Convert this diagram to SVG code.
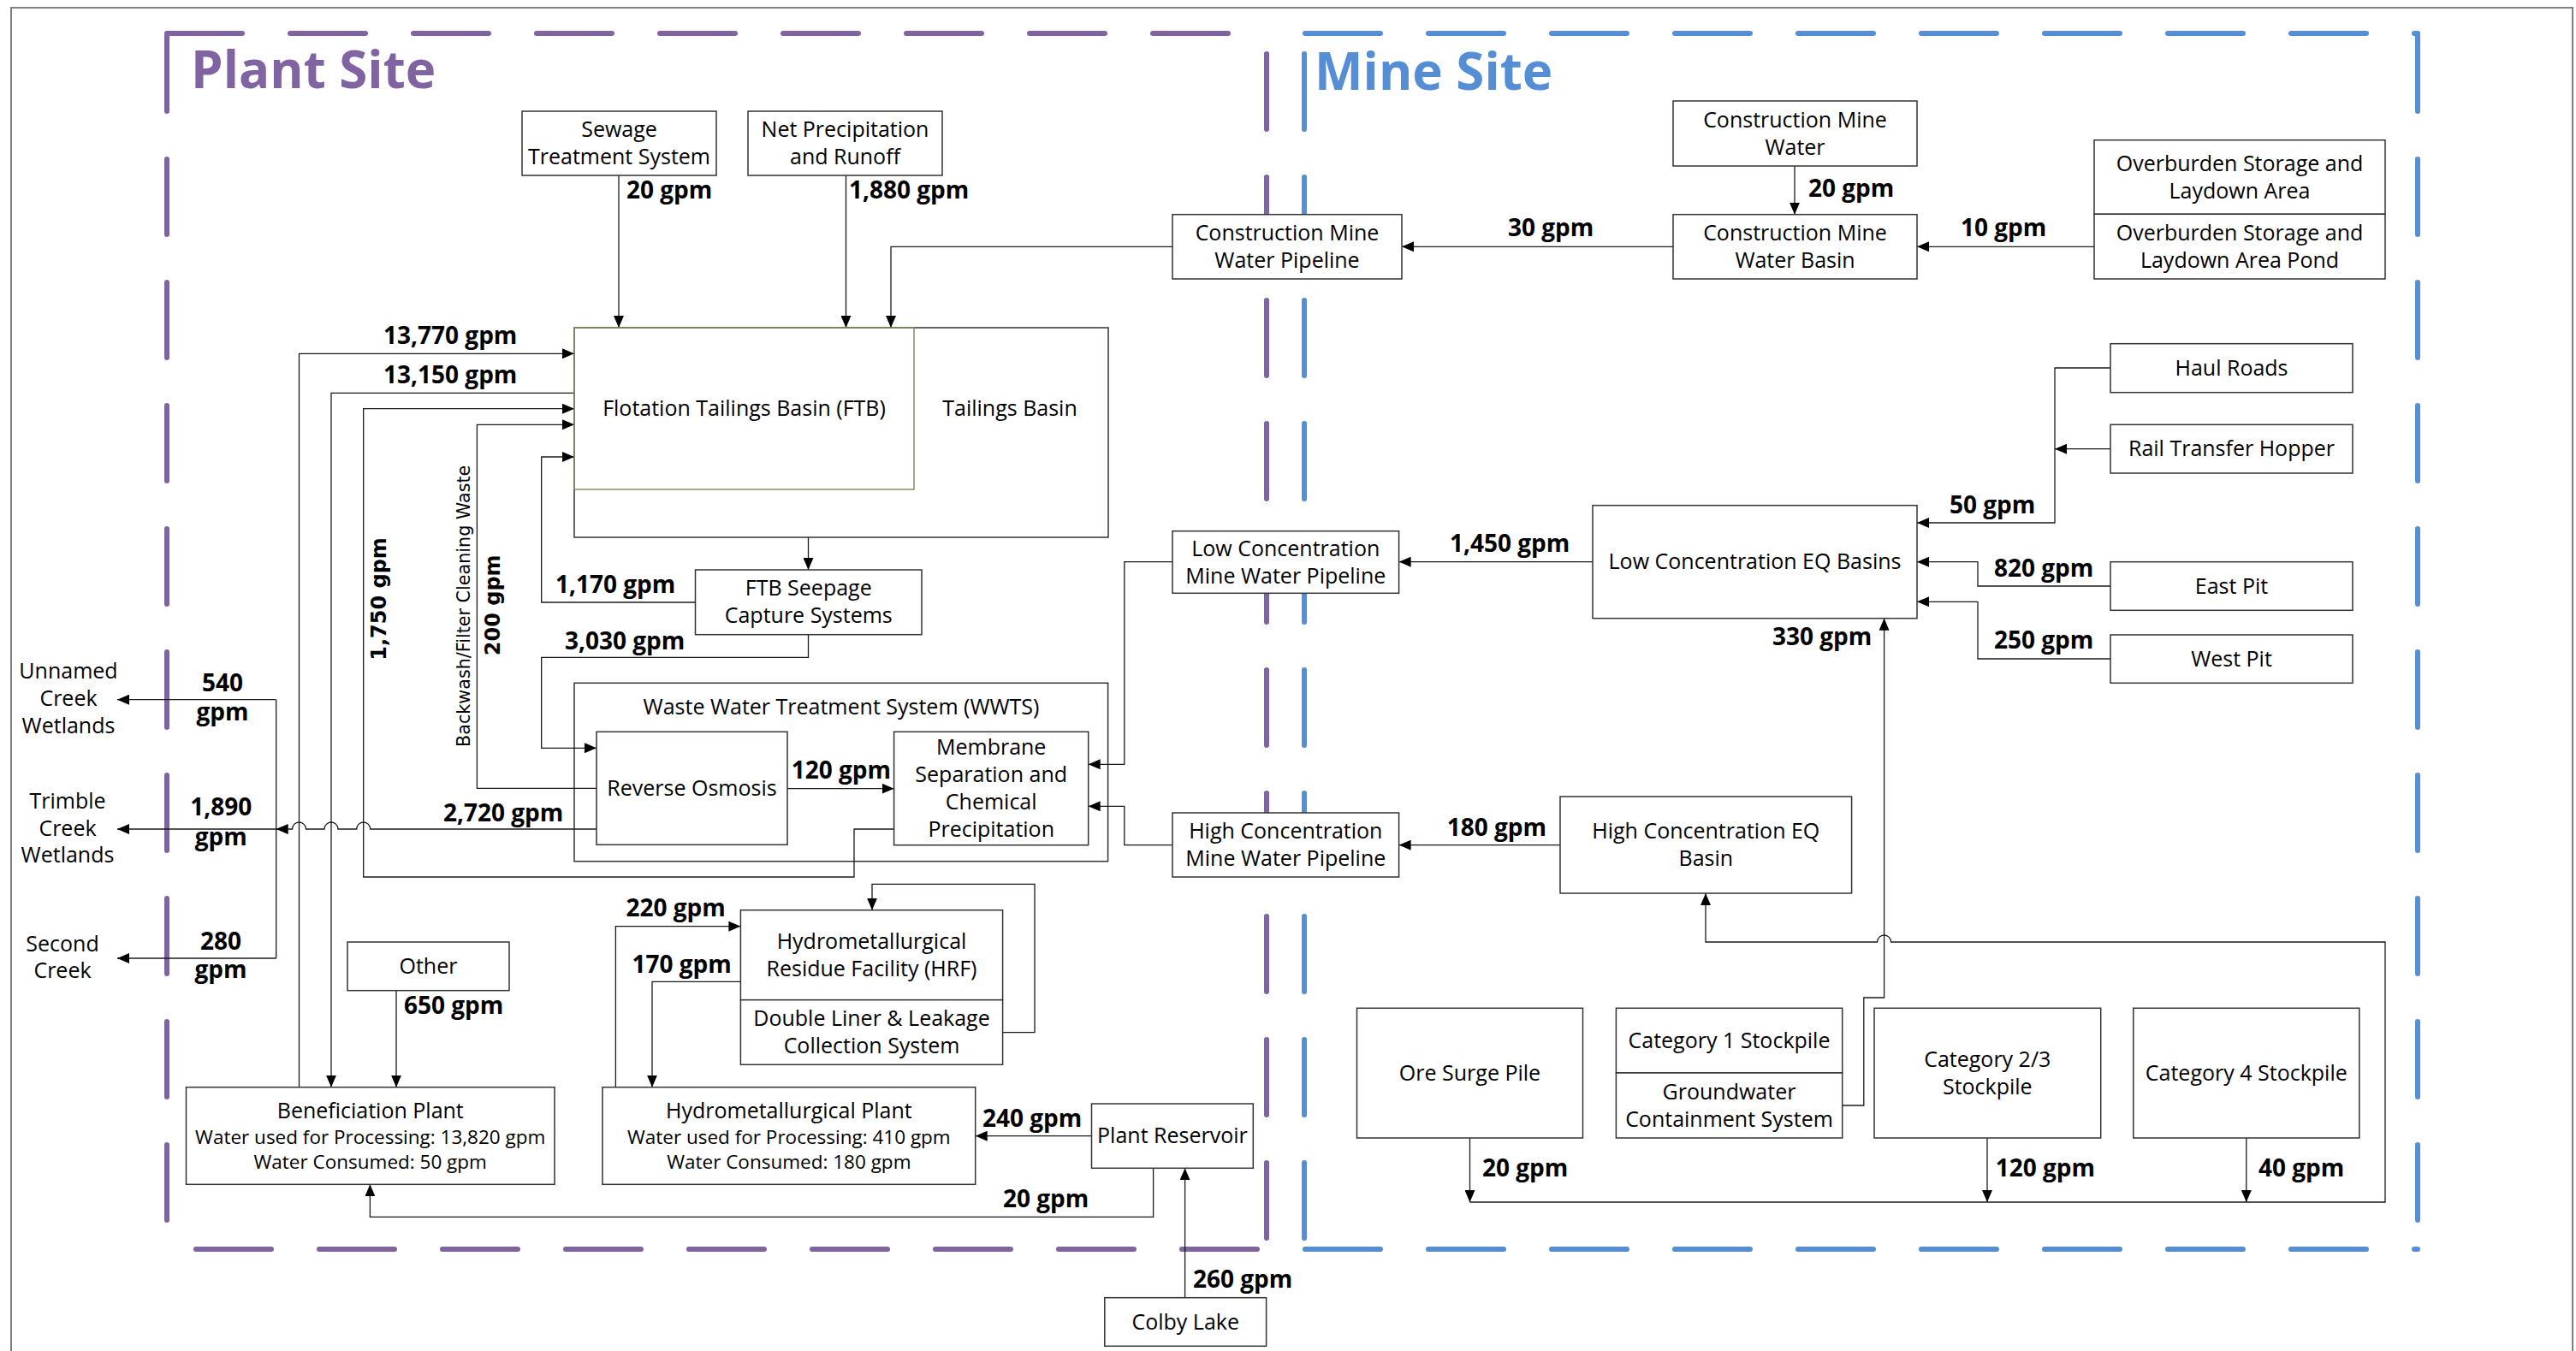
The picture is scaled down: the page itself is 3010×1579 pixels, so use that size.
<svg xmlns="http://www.w3.org/2000/svg" width="3010" height="1579" viewBox="0 0 3010 1579">
  <style>
    .frame { fill: none; stroke: #808080; stroke-width: 2; }
    .site { fill: none; stroke-width: 6; stroke-linecap: round; stroke-dasharray: 88 56; }
    .plant { stroke: #8064A2; }
    .mine { stroke: #558ED5; }
    .title { font-family: "Open Sans", "Noto Sans", sans-serif; font-weight: bold; font-size: 60px; }
    .box { fill: #fff; stroke: #333; stroke-width: 1.5; }
    .group { fill: none; stroke: #333; stroke-width: 1.5; }
    .ftb { fill: none; stroke: #7f9161; stroke-width: 1.5; }
    .t { font-family: "Open Sans", "Noto Sans", sans-serif; font-size: 25px; text-anchor: middle; fill: #000; }
    .sm { font-size: 22.5px; }
    .lbl { font-family: "Open Sans", "Noto Sans", sans-serif; font-size: 28px; font-weight: bold; fill: #000; }
    .mid { text-anchor: middle; }
    .rot { font-family: "DejaVu Sans", Verdana, sans-serif; text-anchor: middle; fill: #000; }
    .wire { fill: none; stroke: #1a1a1a; stroke-width: 1.3; }
    .arr { marker-end: url(#ah); }
  </style>
  <defs>
    <marker id="ah" markerWidth="14" markerHeight="12" refX="14" refY="6" orient="auto" markerUnits="userSpaceOnUse">
      <path d="M0,0 L14,6 L0,12 z" fill="#000"/>
    </marker>
  </defs>

  <rect width="3010" height="1579" fill="#fff"/>
  <path class="frame" d="M13,1579 V9 H3006 V1579"/>

  <!-- site boundaries -->
  <g id="plant-site">
    <line class="site plant" x1="195" y1="39" x2="1480" y2="39"/>
    <line class="site plant" x1="195" y1="42" x2="195" y2="1460"/>
    <line class="site plant" x1="1469" y1="1460" x2="195" y2="1460"/>
    <line class="site plant" x1="1480" y1="63" x2="1480" y2="1460"/>
    <text class="title" x="223" y="103" fill="#8064A2">Plant Site</text>
  </g>
  <g id="mine-site">
    <line class="site mine" x1="1525" y1="39" x2="2825" y2="39"/>
    <line class="site mine" x1="1524" y1="63" x2="1524" y2="1460"/>
    <line class="site mine" x1="2825" y1="42" x2="2825" y2="1460"/>
    <line class="site mine" x1="1525" y1="1460" x2="2825" y2="1460"/>
    <text class="title" x="1536" y="105" fill="#558ED5">Mine Site</text>
  </g>

  <!-- WWTS is a container: outline only, its contents sit on top -->
  <g id="wwts">
    <rect class="group" x="671" y="798.3" width="623.6" height="208.4"/>
    <text class="t" x="983" y="835">Waste Water Treatment System (WWTS)</text>
  </g>

  <!-- flows -->
  <g id="connectors">
    <path class="wire arr" d="M723,205 V383"/>
    <path class="wire arr" d="M988.5,205 V383"/>
    <path class="wire arr" d="M1370,288.3 H1041 V383"/>
    <path class="wire arr" d="M1955,288.3 H1638"/>
    <path class="wire arr" d="M2097,194 V250.7"/>
    <path class="wire arr" d="M2447,288.3 H2240"/>
    <path class="wire arr" d="M2466,430 H2401 V611 H2240"/>
    <path class="wire arr" d="M2466,524.7 H2401"/>
    <path class="wire arr" d="M2466,685 H2311 V656.7 H2240"/>
    <path class="wire arr" d="M2466,770 H2311 V703.3 H2240"/>
    <path class="wire arr" d="M1861,656.7 H1634.6"/>
    <path class="wire arr" d="M1370,656.7 H1313.8 V893.3 H1271.7"/>
    <path class="wire arr" d="M1823,987.7 H1634.6"/>
    <path class="wire arr" d="M1370,987.7 H1313.8 V942.3 H1271.7"/>
    <path class="wire arr" d="M1717.5,1330 V1405"/>
    <path class="wire arr" d="M2322,1330 V1405"/>
    <path class="wire arr" d="M2624.8,1330 V1405"/>
    <path class="wire arr" d="M1717.5,1405 H2787 V1101 H2209.6 A8,8 0 0 0 2193.6,1101 H1993 V1044"/>
    <path class="wire arr" d="M2152.7,1292 H2177.8 V1166 H2201.6 V722.7"/>
    <path class="wire arr" d="M920,921.7 H1044.6"/>
    <path class="wire arr" d="M944.5,628 V666"/>
    <path class="wire arr" d="M944.5,741.7 V768.3 H632.7 V874.3 H697"/>
    <path class="wire arr" d="M812.5,704 H632.7 V534 H671"/>
    <path class="wire arr" d="M697,921.3 H557.4 V496.3 H671"/>
    <path class="wire arr" d="M697,969 H432.7 A8,8 0 0 0 416.7,969 H395 A8,8 0 0 0 379,969 H357.5 A8,8 0 0 0 341.5,969 H322.7"/>
    <path class="wire" d="M322.7,817.7 V1120"/>
    <path class="wire arr" d="M322.7,817.7 H137"/>
    <path class="wire arr" d="M322.7,969 H137"/>
    <path class="wire arr" d="M322.7,1120 H137"/>
    <path class="wire arr" d="M1044.6,969 H998 V1025 H424.7 V477.7 H671"/>
    <path class="wire arr" d="M671,459.3 H387 V1270.7"/>
    <path class="wire arr" d="M349.5,1270.7 V413.3 H671"/>
    <path class="wire arr" d="M463,1157.7 V1270.7"/>
    <path class="wire arr" d="M1347.6,1365.3 V1422.3 H432.4 V1384.3"/>
    <path class="wire arr" d="M1275.5,1327.7 H1139.7"/>
    <path class="wire arr" d="M1384.6,1516.7 V1365.3"/>
    <path class="wire arr" d="M719.4,1270.7 V1082.7 H865.4"/>
    <path class="wire arr" d="M865.4,1147.3 H762 V1270.7"/>
    <path class="wire arr" d="M1171.6,1206.7 H1209 V1033.3 H1019 V1063.7"/>
  </g>

  <!-- flow rates -->
  <g id="flow-labels">
    <text class="lbl" x="732" y="232">20 gpm</text>
    <text class="lbl" x="992" y="232">1,880 gpm</text>
    <text class="lbl" x="1762" y="276">30 gpm</text>
    <text class="lbl" x="2113" y="230">20 gpm</text>
    <text class="lbl" x="2291" y="276">10 gpm</text>
    <text class="lbl" x="448" y="401.5">13,770 gpm</text>
    <text class="lbl" x="448" y="448.3">13,150 gpm</text>
    <text class="lbl" x="649" y="693.3">1,170 gpm</text>
    <text class="lbl" x="660" y="759">3,030 gpm</text>
    <text class="lbl" x="1694" y="645">1,450 gpm</text>
    <text class="lbl" x="2278" y="600">50 gpm</text>
    <text class="lbl" x="2330" y="674">820 gpm</text>
    <text class="lbl" x="2330" y="758.3">250 gpm</text>
    <text class="lbl" x="2071" y="754">330 gpm</text>
    <text class="lbl" x="924.7" y="910">120 gpm</text>
    <text class="lbl" x="518" y="960">2,720 gpm</text>
    <text class="lbl" x="1690.7" y="976.7">180 gpm</text>
    <text class="lbl mid" x="260"><tspan x="260" y="808.3">540</tspan><tspan x="260" y="841.7">gpm</tspan></text>
    <text class="lbl mid" x="258.3"><tspan x="258.3" y="953.3">1,890</tspan><tspan x="258.3" y="988.3">gpm</tspan></text>
    <text class="lbl mid" x="258"><tspan x="258" y="1110">280</tspan><tspan x="258" y="1143.3">gpm</tspan></text>
    <text class="lbl" x="731.5" y="1071">220 gpm</text>
    <text class="lbl" x="738.5" y="1136.7">170 gpm</text>
    <text class="lbl" x="472" y="1185">650 gpm</text>
    <text class="lbl" x="1172" y="1410.7">20 gpm</text>
    <text class="lbl" x="1148" y="1316.7">240 gpm</text>
    <text class="lbl" x="1394" y="1505">260 gpm</text>
    <text class="lbl" x="1732" y="1375">20 gpm</text>
    <text class="lbl" x="2331.7" y="1375">120 gpm</text>
    <text class="lbl" x="2639" y="1375">40 gpm</text>
    <text class="rot" font-size="20.7" transform="translate(549,708.3) rotate(-90)">Backwash/Filter Cleaning Waste</text>
    <text class="rot" font-size="24" font-weight="bold" transform="translate(451,700) rotate(-90)">1,750 gpm</text>
    <text class="rot" font-size="24" font-weight="bold" transform="translate(583.5,707.3) rotate(-90)">200 gpm</text>
  </g>

  <!-- receiving waters -->
  <g id="unnamed-creek-wetlands">
    <text class="t"><tspan x="80" y="793.3">Unnamed</tspan><tspan x="80" y="825">Creek</tspan><tspan x="80" y="857.3">Wetlands</tspan></text>
  </g>
  <g id="trimble-creek-wetlands">
    <text class="t"><tspan x="79" y="945">Trimble</tspan><tspan x="79" y="976.7">Creek</tspan><tspan x="79" y="1007.7">Wetlands</tspan></text>
  </g>
  <g id="second-creek">
    <text class="t"><tspan x="73" y="1111.7">Second</tspan><tspan x="73" y="1143.3">Creek</tspan></text>
  </g>

  <!-- plant site nodes -->
  <g id="sewage-treatment">
    <rect class="box" x="610" y="130" width="227" height="75"/>
    <text class="t"><tspan x="723.5" y="159.5">Sewage</tspan><tspan x="723.5" y="191.5">Treatment System</tspan></text>
  </g>
  <g id="net-precipitation">
    <rect class="box" x="874" y="130" width="227" height="75"/>
    <text class="t"><tspan x="987.5" y="159.5">Net Precipitation</tspan><tspan x="987.5" y="191.5">and Runoff</tspan></text>
  </g>
  <g id="tailings-basin">
    <rect class="box" x="671" y="383" width="624" height="245"/>
    <text class="t" x="1180" y="486">Tailings Basin</text>
  </g>
  <g id="ftb">
    <rect class="ftb" x="671" y="383" width="397" height="189"/>
    <text class="t" x="869.5" y="486">Flotation Tailings Basin (FTB)</text>
  </g>
  <g id="ftb-seepage">
    <rect class="box" x="812.5" y="666" width="264.5" height="75.7"/>
    <text class="t"><tspan x="944.75" y="696.4">FTB Seepage</tspan><tspan x="944.75" y="728.4">Capture Systems</tspan></text>
  </g>
  <g id="reverse-osmosis">
    <rect class="box" x="697" y="855.3" width="223" height="132"/>
    <text class="t" x="808.5" y="930">Reverse Osmosis</text>
  </g>
  <g id="membrane-separation">
    <rect class="box" x="1044.6" y="855.3" width="227.1" height="132.4"/>
    <text class="t"><tspan x="1158.2" y="882">Membrane</tspan><tspan x="1158.2" y="914">Separation and</tspan><tspan x="1158.2" y="946">Chemical</tspan><tspan x="1158.2" y="978">Precipitation</tspan></text>
  </g>
  <g id="hrf">
    <rect class="box" x="865.4" y="1063.7" width="306.2" height="105"/>
    <text class="t"><tspan x="1018.5" y="1108.7">Hydrometallurgical</tspan><tspan x="1018.5" y="1140.7">Residue Facility (HRF)</tspan></text>
  </g>
  <g id="double-liner">
    <rect class="box" x="865.4" y="1168.7" width="306.2" height="75.6"/>
    <text class="t"><tspan x="1018.5" y="1199">Double Liner &amp; Leakage</tspan><tspan x="1018.5" y="1231">Collection System</tspan></text>
  </g>
  <g id="other">
    <rect class="box" x="406" y="1101" width="189" height="56.7"/>
    <text class="t" x="500.5" y="1137.9">Other</text>
  </g>
  <g id="beneficiation-plant">
    <rect class="box" x="217.5" y="1270.7" width="430.5" height="113.6"/>
    <text class="t"><tspan x="432.75" y="1307">Beneficiation Plant</tspan><tspan class="sm" x="432.75" y="1336.5">Water used for Processing: 13,820 gpm</tspan><tspan class="sm" x="432.75" y="1365.5">Water Consumed: 50 gpm</tspan></text>
  </g>
  <g id="hydrometallurgical-plant">
    <rect class="box" x="704" y="1270.7" width="435.7" height="113.6"/>
    <text class="t"><tspan x="921.85" y="1307">Hydrometallurgical Plant</tspan><tspan class="sm" x="921.85" y="1336.5">Water used for Processing: 410 gpm</tspan><tspan class="sm" x="921.85" y="1365.5">Water Consumed: 180 gpm</tspan></text>
  </g>
  <g id="plant-reservoir">
    <rect class="box" x="1275.5" y="1290" width="188.8" height="75.3"/>
    <text class="t" x="1369.9" y="1336.2">Plant Reservoir</text>
  </g>
  <g id="colby-lake">
    <rect class="box" x="1290.8" y="1516.7" width="188.8" height="56.6"/>
    <text class="t" x="1385.2" y="1553.5">Colby Lake</text>
  </g>

  <!-- mine site nodes -->
  <g id="construction-pipeline">
    <rect class="box" x="1370" y="250.7" width="268" height="75.3"/>
    <text class="t"><tspan x="1504" y="280.8">Construction Mine</tspan><tspan x="1504" y="312.8">Water Pipeline</tspan></text>
  </g>
  <g id="construction-water">
    <rect class="box" x="1955" y="118" width="285" height="76"/>
    <text class="t"><tspan x="2097.5" y="148.5">Construction Mine</tspan><tspan x="2097.5" y="180.5">Water</tspan></text>
  </g>
  <g id="construction-basin">
    <rect class="box" x="1955" y="250.7" width="285" height="75.3"/>
    <text class="t"><tspan x="2097.5" y="280.8">Construction Mine</tspan><tspan x="2097.5" y="312.8">Water Basin</tspan></text>
  </g>
  <g id="overburden-area">
    <rect class="box" x="2447" y="163.7" width="340" height="86.6"/>
    <text class="t"><tspan x="2617" y="199.5">Overburden Storage and</tspan><tspan x="2617" y="231.5">Laydown Area</tspan></text>
  </g>
  <g id="overburden-pond">
    <rect class="box" x="2447" y="250.3" width="340" height="75.7"/>
    <text class="t"><tspan x="2617" y="280.7">Overburden Storage and</tspan><tspan x="2617" y="312.7">Laydown Area Pond</tspan></text>
  </g>
  <g id="haul-roads">
    <rect class="box" x="2466" y="401.7" width="283" height="57"/>
    <text class="t" x="2607.5" y="438.7">Haul Roads</text>
  </g>
  <g id="rail-transfer-hopper">
    <rect class="box" x="2466" y="496.3" width="283" height="56.7"/>
    <text class="t" x="2607.5" y="533.2">Rail Transfer Hopper</text>
  </g>
  <g id="low-eq-basins">
    <rect class="box" x="1861" y="590.7" width="379" height="132"/>
    <text class="t" x="2050.5" y="665.2">Low Concentration EQ Basins</text>
  </g>
  <g id="east-pit">
    <rect class="box" x="2466" y="656.7" width="283" height="56.6"/>
    <text class="t" x="2607.5" y="693.5">East Pit</text>
  </g>
  <g id="west-pit">
    <rect class="box" x="2466" y="742" width="283" height="56.3"/>
    <text class="t" x="2607.5" y="778.7">West Pit</text>
  </g>
  <g id="low-pipeline">
    <rect class="box" x="1370" y="620.7" width="264.6" height="72.6"/>
    <text class="t"><tspan x="1502.3" y="649.5">Low Concentration</tspan><tspan x="1502.3" y="681.5">Mine Water Pipeline</tspan></text>
  </g>
  <g id="high-pipeline">
    <rect class="box" x="1370" y="950" width="264.6" height="75"/>
    <text class="t"><tspan x="1502.3" y="980">High Concentration</tspan><tspan x="1502.3" y="1012">Mine Water Pipeline</tspan></text>
  </g>
  <g id="high-eq-basin">
    <rect class="box" x="1823" y="931" width="340.6" height="113"/>
    <text class="t"><tspan x="1993.3" y="980">High Concentration EQ</tspan><tspan x="1993.3" y="1012">Basin</tspan></text>
  </g>
  <g id="ore-surge-pile">
    <rect class="box" x="1585.5" y="1178.3" width="264" height="151.7"/>
    <text class="t" x="1717.5" y="1262.5">Ore Surge Pile</text>
  </g>
  <g id="category-1">
    <rect class="box" x="1888.4" y="1178.3" width="264.3" height="75.7"/>
    <text class="t" x="2020.5" y="1224.5">Category 1 Stockpile</text>
  </g>
  <g id="groundwater-containment">
    <rect class="box" x="1888.4" y="1254" width="264.3" height="76"/>
    <text class="t"><tspan x="2020.5" y="1284.5">Groundwater</tspan><tspan x="2020.5" y="1316.5">Containment System</tspan></text>
  </g>
  <g id="category-2-3">
    <rect class="box" x="2190" y="1178.3" width="264.7" height="151.7"/>
    <text class="t"><tspan x="2322.3" y="1246.5">Category 2/3</tspan><tspan x="2322.3" y="1278.5">Stockpile</tspan></text>
  </g>
  <g id="category-4">
    <rect class="box" x="2492.8" y="1178.3" width="264" height="151.7"/>
    <text class="t" x="2624.8" y="1262.5">Category 4 Stockpile</text>
  </g>
</svg>
